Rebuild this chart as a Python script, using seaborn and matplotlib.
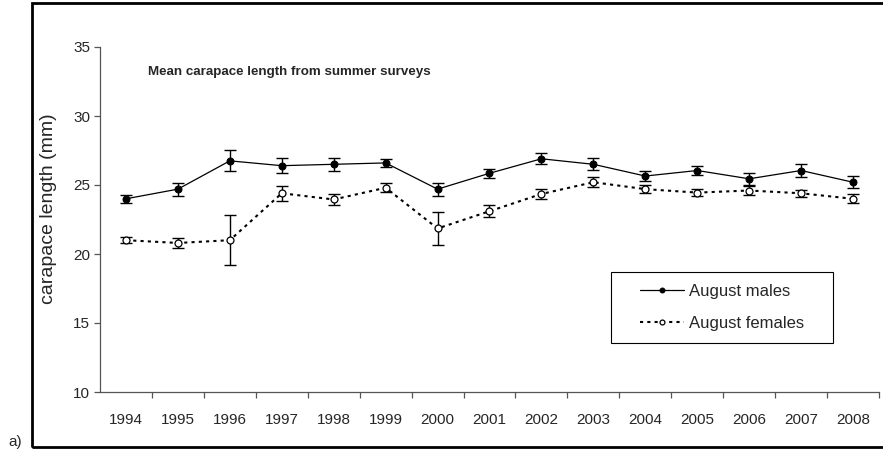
"""
Mean carapace length from summer surveys (August males / females).
"""

import matplotlib
matplotlib.use("Agg")
import matplotlib.pyplot as plt
import matplotlib.patches as mpatches
from matplotlib.ticker import FixedLocator, NullFormatter
import seaborn as sns
import pandas as pd

# Data
years = [1994, 1995, 1996, 1997, 1998, 1999, 2000, 2001,
         2002, 2003, 2004, 2005, 2006, 2007, 2008]
males_mean = [24.0, 24.7, 26.75, 26.4, 26.5, 26.6, 24.7, 25.85,
              26.9, 26.5, 25.65, 26.05, 25.45, 26.05, 25.2]
males_err = [0.31, 0.48, 0.76, 0.54, 0.46, 0.31, 0.48, 0.33,
             0.39, 0.43, 0.33, 0.34, 0.45, 0.48, 0.42]
females_mean = [21.0, 20.8, 21.0, 24.4, 23.95, 24.8, 21.85, 23.1,
                24.35, 25.2, 24.7, 24.45, 24.6, 24.4, 24.0]
females_err = [0.22, 0.34, 1.81, 0.54, 0.37, 0.34, 1.21, 0.45,
               0.33, 0.36, 0.30, 0.24, 0.30, 0.27, 0.33]

sns.set_style("white")
plt.rcParams['font.family'] = ['Liberation Sans', 'DejaVu Sans']

df = pd.DataFrame({
    'year': years * 2,
    'length': males_mean + females_mean,
    'err': males_err + females_err,
    'group': ['August males'] * len(years) + ['August females'] * len(years),
})

fig = plt.figure(figsize=(8.83, 4.5), dpi=100)
ax = fig.add_axes([100 / 883, 58 / 450, 779 / 883, 345 / 450])

# error bars first, so markers sit on top
for grp in ['August males', 'August females']:
    sub = df[df['group'] == grp]
    ax.errorbar(sub['year'], sub['length'], yerr=sub['err'], fmt='none',
                ecolor='black', elinewidth=1.0, capsize=4.3, capthick=1.0,
                zorder=2)

males = df[df['group'] == 'August males']
females = df[df['group'] == 'August females']
sns.lineplot(data=males, x='year', y='length', ax=ax, color='black',
             linewidth=0.9, marker='o', markersize=5,
             markerfacecolor='black', markeredgecolor='black',
             label='August males', zorder=3)
sns.lineplot(data=females, x='year', y='length', ax=ax, color='black',
             linewidth=1.5, linestyle=(0, (1.5, 2.0)), marker='o', markersize=5,
             markerfacecolor='white', markeredgecolor='black',
             markeredgewidth=0.9, label='August females', zorder=3)

# axes styling
ax.set_xlim(years[0] - 0.5, years[-1] + 0.5)
ax.set_ylim(10, 35)
ax.set_yticks([10, 15, 20, 25, 30, 35])
ax.set_xticks(years)
ax.set_xticklabels([str(y) for y in years])
ax.xaxis.set_minor_locator(FixedLocator([y + 0.5 for y in years]))
ax.xaxis.set_minor_formatter(NullFormatter())
ax.tick_params(axis='x', which='major', length=0, pad=15, labelsize=11)
ax.tick_params(axis='x', which='minor', length=4, width=0.9,
               color='#555555', direction='out', bottom=True)
ax.tick_params(axis='y', length=4, width=0.9, color='#555555',
               direction='out', left=True, labelsize=11, pad=3)
ax.set_xlabel('')
ax.set_ylabel('carapace length (mm)', fontsize=14, va='center')
ax.yaxis.set_label_coords(-0.0655, 0.53)
for side in ['top', 'right']:
    ax.spines[side].set_visible(False)
for side in ['left', 'bottom']:
    ax.spines[side].set_color('#555555')
    ax.spines[side].set_linewidth(0.9)

ax.text(0.061, 0.919, 'Mean carapace length from summer surveys',
        transform=ax.transAxes, fontsize=9.6, fontweight='bold')

# legend without its own frame, boxed by a separate rectangle
leg = ax.legend(loc='center', bbox_to_anchor=(0.7985, 0.245),
                frameon=False, fontsize=12, handlelength=2.64,
                labelspacing=1.0, handletextpad=0.3, markerscale=0.7,
                borderpad=0, borderaxespad=0)
box = mpatches.Rectangle((511 / 779, 49 / 345), 222 / 779, 71 / 345,
                         transform=ax.transAxes, fill=True, facecolor='white',
                         edgecolor='black', linewidth=0.8, zorder=4)
ax.add_patch(box)
leg.set_zorder(5)

# outer border of the figure panel
border = mpatches.Rectangle((32 / 883, 3 / 450), 1.0, 444 / 450,
                            transform=fig.transFigure, fill=False,
                            edgecolor='black', linewidth=2.0, clip_on=False)
fig.patches.append(border)
fig.text(8 / 883, 1 / 450, 'a)', fontsize=11, ha='left', va='bottom')

fig.savefig('out.png', dpi=100)
plt.close(fig)
